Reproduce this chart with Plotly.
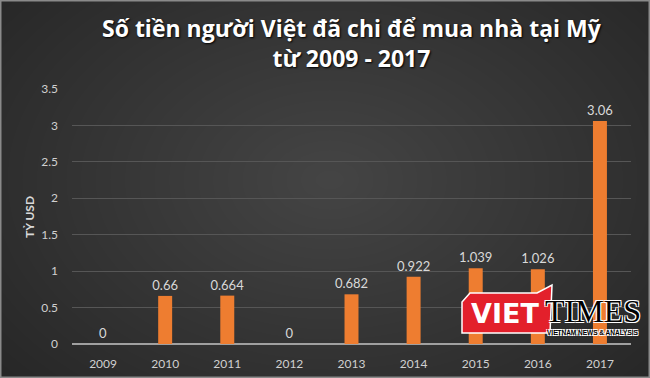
import plotly.graph_objects as go

# ---- data ----
years = ["2009", "2010", "2011", "2012", "2013", "2014", "2015", "2016", "2017"]
values = [0, 0.66, 0.664, 0, 0.682, 0.922, 1.039, 1.026, 3.06]
value_labels = ["0", "0.66", "0.664", "0", "0.682", "0.922", "1.039", "1.026", "3.06"]
y_ticks = [0, 0.5, 1, 1.5, 2, 2.5, 3, 3.5]
y_tick_labels = ["0", "0.5", "1", "1.5", "2", "2.5", "3", "3.5"]
title_text = "Số tiền người Việt đã chi để mua nhà tại Mỹ<br>từ 2009 - 2017"
y_title = "TỶ USD"

W, H = 650, 378
L, R, T, B = 72, 19, 89, 34
pw, ph = W - L - R, H - T - B


def px(x):
    return (x - L) / pw


def py(y):
    return (H - B - y) / ph


FONT = "Lato"

fig = go.Figure()
fig.add_trace(go.Bar(
    x=years, y=values,
    text=value_labels, textposition="outside", cliponaxis=False,
    constraintext="none",
    textfont=dict(family=FONT, size=13, color="#d9d9d9"),
    marker=dict(color="#EE7D30", line=dict(width=0)),
    hoverinfo="skip",
))

shapes = []
# radial-ish background gradient
n = 30
cx, cy = 330, 180
for i in range(n):
    f = 1 - i / n
    rx, ry = 440 * f, 300 * f
    shapes.append(dict(type="circle", xref="paper", yref="paper", layer="below",
                       x0=px(cx - rx), x1=px(cx + rx), y0=py(cy + ry), y1=py(cy - ry),
                       fillcolor="rgba(255,255,255,0.0075)", line=dict(width=0)))
# frame
shapes.append(dict(type="rect", xref="paper", yref="paper", layer="above",
                   x0=px(0.75), x1=px(W - 0.75), y0=py(H - 0.75), y1=py(0.75),
                   line=dict(color="#8a8a8a", width=1.5)))
# VietTimes logo red block
logo_pts = [(470, 293), (537, 293), (552, 285), (550, 333), (462, 333), (462, 302)]
path = "M " + " L ".join(f"{px(x)},{py(y)}" for x, y in logo_pts) + " Z"
shapes.append(dict(type="path", xref="paper", yref="paper", layer="above", path=path,
                   fillcolor="#E3202B", line=dict(color="white", width=1.5)))

outline = "-1px -1px 0 #fff, 1px -1px 0 #fff, -1px 1px 0 #fff, 1px 1px 0 #fff"
annotations = [
    dict(text=title_text, x=0.5, xref="paper", y=py(43), yref="paper",
         xanchor="center", yanchor="middle", showarrow=False,
         font=dict(family="Open Sans", size=23, color="white", weight="bold",
                   shadow="1px 1px 2px #000")),
    dict(text="<b>" + y_title + "</b>", x=px(29), xref="paper", y=py(217), yref="paper",
         textangle=-90, showarrow=False, xanchor="center", yanchor="middle",
         font=dict(family=FONT, size=12, color="#d9d9d9")),
    dict(text="<b>VIET</b>", x=px(505), xref="paper", y=py(313), yref="paper",
         showarrow=False, xanchor="center", yanchor="middle",
         font=dict(family="DejaVu Sans", size=27, color="white")),
    dict(text="TIMES", x=px(593), xref="paper", y=py(311), yref="paper",
         showarrow=False, xanchor="center", yanchor="middle",
         font=dict(family="Liberation Serif", size=32, color="black", shadow=outline)),
    dict(text="<b>VIETNAM NEWS & ANALYSIS</b>", x=px(593), xref="paper", y=py(332), yref="paper",
         showarrow=False, xanchor="center", yanchor="middle",
         font=dict(family="Liberation Sans", size=6.5, color="black", shadow=outline)),
]

fig.update_layout(
    width=W, height=H,
    margin=dict(l=L, r=R, t=T, b=B, pad=0, autoexpand=False),
    paper_bgcolor="#262626", plot_bgcolor="rgba(0,0,0,0)",
    showlegend=False, bargap=0.775,
    shapes=shapes, annotations=annotations,
    font=dict(family=FONT, color="#d0d0d0", size=12),
)
fig.update_xaxes(
    type="category", showgrid=False, showline=False, zeroline=False,
    ticks="", ticklabelstandoff=11, automargin=False,
    tickfont=dict(family=FONT, size=12, color="#d0d0d0"),
)
fig.update_yaxes(
    range=[0, 3.5], tickvals=y_ticks, ticktext=y_tick_labels,
    showgrid=True, gridcolor="#565656", gridwidth=1,
    zeroline=True, zerolinecolor="#a0a0a0", zerolinewidth=2,
    showline=False, ticks="", ticklabelstandoff=13, automargin=False,
    tickfont=dict(family=FONT, size=12, color="#d0d0d0"),
)

fig.write_html(
    "out.html",
    config={"displayModeBar": False},
    post_script="document.body.style.margin='0';document.body.style.overflow='hidden';",
)
